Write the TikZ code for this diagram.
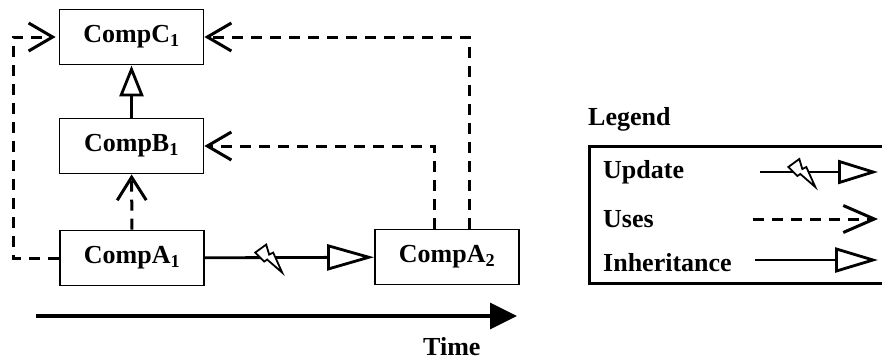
\documentclass[tikz,border=0pt]{standalone}
\usepackage{fontspec}
\setmainfont{Liberation Serif}
\usetikzlibrary{arrows.meta}
\tikzstyle{comp} = [rectangle, draw, line width=1.8pt, minimum width=144pt, minimum height=55pt, font=\bfseries\fontsize{26}{30}\selectfont]
\tikzstyle{txt} = [inner sep=0pt, font=\bfseries\fontsize{26}{30}\selectfont]
\tikzstyle{update} = [line width=2.8pt, -{Triangle[open,length=47pt,width=26pt]}]
\tikzstyle{uses} = [line width=3pt, dash pattern=on 11pt off 8pt, -{Straight Barb[length=24pt,width=28pt]}]
\tikzstyle{inherit} = [line width=2.8pt, -{Triangle[open,length=43pt,width=25pt]}]
\tikzstyle{timeline} = [line width=3.4pt, -{Triangle[length=27pt,width=26pt]}]
\tikzset{zap/.pic={
  \draw[line width=1.8pt, fill=white] (-13,-5) -- (-2,-13) -- (1,-3) -- (5,-5) -- (14,15) -- (-1,2) -- (-4,4) -- cycle;
}}

\begin{document}
\begin{tikzpicture}[x=1pt, y=-1pt]
  \useasboundingbox (0,0) rectangle (882,360);

  % components
  \node (compC) [comp] at (131.5,37) {CompC\textsubscript{1}};
  \node (compB) [comp] at (131.5,146) {CompB\textsubscript{1}};
  \node (compA1) [comp] at (132,258) {CompA\textsubscript{1}};
  \node (compA2) [comp] at (447,257) {CompA\textsubscript{2}};

  \draw [inherit, -{Triangle[open,length=31pt,width=24pt]}] (compB) -- (compC);
  \draw [uses, -{Straight Barb[length=23pt,width=29pt]}] (compA1) -- (compB);
  \draw [uses] (compA1.west) -- ++(-46,0) |- ([xshift=-3pt]compC.west);
  \draw [uses] ([xshift=-13pt]compA2.north) |- (compB.east);
  \draw [uses] ([xshift=22pt]compA2.north) |- (compC.east);
  \draw [update] (compA1) -- coordinate[pos=0.374] (zapA) (compA2);
  \path (zapA) pic {zap};

  % time axis
  \coordinate (t0) at (36,316);
  \coordinate (t1) at (517,316);
  \draw [timeline] (t0) -- (t1);
  \node (time) [txt, anchor=base west] at (423,355) {Time};

  % legend
  \node (legend) [txt, anchor=base west] at (588,125) {Legend};
  \draw [line width=3pt] (882,146) -| (589,283) -- (882,283);

  \node (lupdate) [txt, anchor=base west] at (603,178) {Update};
  \node (luses) [txt, anchor=base west] at (603,227) {Uses};
  \node (linherit) [txt, anchor=base west] at (603,271) {Inheritance};

  \coordinate (u0) at (760,172);
  \coordinate (u1) at (878,172);
  \coordinate (s0) at (753,219);
  \coordinate (s1) at (878,219);
  \coordinate (i0) at (755,260);
  \coordinate (i1) at (878,260);
  \draw [update, -{Triangle[open,length=40pt,width=24pt]}] (u0) -- coordinate[pos=0.35] (zapL) (u1);
  \path (zapL) pic {zap};
  \draw [uses, -{Straight Barb[length=31pt,width=27pt]}] (s0) -- (s1);
  \draw [inherit] (i0) -- (i1);
\end{tikzpicture}
\end{document}
